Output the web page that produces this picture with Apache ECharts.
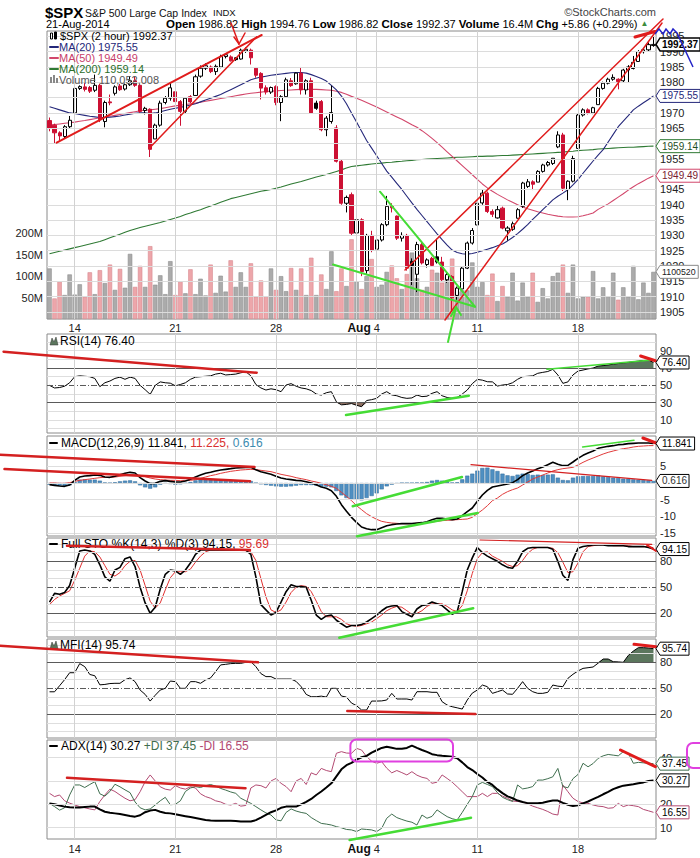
<!DOCTYPE html>
<html><head><meta charset="utf-8">
<script src="https://cdn.jsdelivr.net/npm/echarts@6/dist/echarts.min.js"></script>
<style>html,body{margin:0;padding:0;background:#fff}#c{width:700px;height:858px}</style>
</head><body><div id="c"></div>
<script>
const FONT = '"Liberation Sans", Arial, Helvetica, sans-serif';

// ---------- categories ----------
const tradingDays = ['Jul 10','Jul 11','Jul 14','Jul 15','Jul 16','Jul 17','Jul 18','Jul 21','Jul 22','Jul 23','Jul 24','Jul 25','Jul 28','Jul 29','Jul 30','Jul 31','Aug 1','Aug 4','Aug 5','Aug 6','Aug 7','Aug 8','Aug 11','Aug 12','Aug 13','Aug 14','Aug 15','Aug 18','Aug 19','Aug 20','Aug 21'];
const sessions = ['09:30','11:30','13:30','15:30'];
const tickIndex = [5,25,45,65,85,105];
const tickText = ['14','21','28','Aug 4','11','18'];
const monthLineIndex = [61];
const priceGridValues = [1905,1910,1915,1920,1925,1930,1935,1940,1945,1950,1955,1960,1965,1970,1975,1980,1985,1990,1995];
const priceTicks = [1905,1910,1915,1920,1925,1930,1935,1940,1945,1955,1965,1970,1980,1985,1990,1995];
const volumeTicks = [50e6,100e6,150e6,200e6];
const rsiTicks = [10,30,50,70,90];
const macdGridValues = [-15,-10,-5,0,5,10];
const macdTicks = [-15,-10,-5,5];
const stoTicks = [20,50,80];
const mfiTicks = [20,50,80];
const adxTicks = [10,20,40];

// ---------- price data (2-hour bars) ----------
const openP = [1967.5,1966.0,1963.5,1962.3,1965.5,
1970.0,1978.0,1978.5,1978.3, 1977.4,1979.0,1967.2,1973.6, 1976.4,1978.8,1977.8,1979.2, 1980.5,1979.0,1970.8,1971.2, 1961.5,1966.0,1973.4,1974.8,
1976.9,1973.7,1970.5,1975.3, 1975.7,1982.0,1984.6,1985.0, 1983.5,1985.0,1988.4,1988.3, 1988.0,1987.6,1990.2,1990.5, 1984.6,1982.9,1978.2,1976.8,
1978.6,1973.4,1975.3,1980.5, 1979.5,1983.0,1977.5,1980.5, 1973.2,1973.7,1964.5,1967.2, 1965.1,1954.2,1940.5,1943.3, 1930.8,1935.1,1918.5,1930.0,
1925.5,1928.5,1933.5,1939.5, 1936.3,1929.1,1930.0,1921.5, 1917.3,1927.0,1920.5,1922.5, 1923.0,1921.3,1915.5,1916.6, 1910.4,1912.5,1919.3,1927.5,
1933.4,1940.6,1943.8,1937.8, 1935.7,1938.9,1931.5,1932.0, 1935.6,1939.5,1946.0,1947.5, 1947.4,1950.9,1953.0,1953.5, 1958.9,1962.8,1945.0,1947.7,
1958.4,1969.3,1971.0,1970.0, 1972.7,1978.0,1979.7,1981.0, 1981.0,1980.5,1984.0,1984.5, 1986.8,1990.0,1990.6,1992.0];
const highP = [1968.5,1966.5,1964.0,1966.0,1969.0,
1978.5,1979.0,1979.9,1978.8, 1982.5,1979.5,1974.0,1976.0, 1979.0,1979.5,1979.6,1982.0, 1981.8,1979.4,1972.0,1971.5, 1966.5,1974.0,1975.5,1979.9,
1977.2,1974.2,1975.2,1975.8, 1982.5,1985.5,1986.2,1985.5, 1985.8,1989.0,1989.2,1988.8, 1988.2,1991.0,1991.4,1991.0, 1985.0,1983.3,1979.0,1978.6,
1979.0,1975.8,1981.5,1981.4, 1983.2,1985.0,1981.0,1981.5, 1974.0,1974.2,1969.0,1978.9, 1966.0,1954.8,1943.0,1944.0, 1937.3,1935.6,1930.5,1931.5,
1930.0,1934.0,1942.9,1940.5, 1936.5,1931.0,1930.5,1922.5, 1927.9,1927.6,1922.5,1923.0, 1928.9,1923.0,1917.8,1917.0, 1913.3,1919.8,1928.0,1932.4,
1941.0,1944.9,1944.3,1938.5, 1939.6,1939.4,1933.0,1934.5, 1938.9,1947.5,1948.4,1948.0, 1951.3,1953.4,1954.3,1955.2, 1964.0,1963.5,1948.0,1956.0,
1969.8,1971.5,1971.5,1972.0, 1978.5,1980.2,1981.5,1982.6, 1981.3,1984.4,1985.6,1988.6, 1990.5,1991.2,1993.0,1994.8];
const lowP = [1964.0,1960.0,1961.0,1961.5,1965.0,
1969.9,1977.5,1977.0,1976.5, 1976.8,1967.0,1965.3,1972.5, 1975.7,1977.2,1977.3,1978.8, 1978.5,1970.0,1969.5,1955.6, 1961.5,1965.5,1972.8,1974.0,
1973.0,1965.8,1970.0,1973.2, 1975.6,1981.5,1984.0,1983.0, 1982.4,1984.6,1987.8,1986.8, 1987.0,1987.4,1989.6,1985.8, 1981.5,1974.4,1976.0,1976.2,
1972.5,1967.3,1975.0,1978.5, 1979.2,1976.0,1976.0,1969.7, 1971.0,1964.0,1962.4,1966.5, 1953.8,1940.0,1937.5,1930.0, 1930.0,1916.7,1917.5,1924.5,
1921.2,1928.0,1933.0,1937.5, 1928.5,1928.0,1918.5,1913.8, 1911.5,1920.5,1919.5,1919.8, 1920.8,1915.0,1914.5,1904.8, 1909.0,1912.0,1919.0,1927.0,
1933.4,1940.0,1937.3,1936.0, 1935.5,1932.0,1928.3,1931.5, 1935.6,1939.0,1945.5,1944.8, 1947.4,1950.5,1952.5,1953.0, 1958.5,1944.5,1941.5,1947.3,
1958.4,1968.8,1969.5,1969.6, 1972.7,1977.6,1979.3,1980.5, 1977.7,1980.0,1980.0,1984.2, 1986.8,1989.4,1990.2,1991.6];
const closeP = [1965.0,1963.5,1962.5,1965.5,1967.6,
1978.0,1978.6,1977.7,1977.1, 1979.0,1967.8,1973.4,1973.3, 1978.5,1977.6,1979.2,1980.5, 1979.0,1970.5,1971.5,1958.1, 1966.0,1973.2,1974.8,1978.2,
1973.7,1970.5,1974.8,1973.6, 1981.8,1984.6,1985.4,1983.5, 1985.2,1988.4,1989.0,1987.0, 1987.4,1990.5,1990.8,1988.0, 1982.3,1978.1,1976.8,1978.3,
1973.4,1975.3,1980.8,1978.9, 1983.0,1977.5,1980.5,1970.0, 1971.5,1964.5,1968.3,1970.1, 1954.2,1940.5,1942.4,1930.7, 1935.1,1918.2,1930.0,1925.2,
1928.5,1933.5,1939.5,1939.0, 1929.1,1930.0,1919.3,1920.2, 1927.0,1921.0,1922.0,1920.2, 1921.3,1915.5,1917.2,1909.6, 1912.8,1919.3,1927.5,1931.6,
1940.5,1943.8,1937.8,1936.9, 1938.4,1932.4,1932.4,1933.8, 1938.4,1947.1,1947.5,1946.7, 1950.9,1953.0,1953.8,1955.2, 1962.8,1945.4,1947.7,1955.1,
1969.3,1971.0,1970.0,1971.7, 1978.0,1979.7,1981.0,1981.6, 1980.2,1984.0,1985.0,1986.5, 1990.0,1990.6,1992.3,1992.37];
const volumeM = [118,48,88,56,104,
57,81,52,109, 58,114,84,127, 68,117,73,152, 75,124,75,170, 80,102,58,135,
56,88,60,116, 58,94,55,127, 61,101,64,137, 75,109,75,130, 52,90,53,118,
68,100,65,119, 68,118,56,143, 56,104,70,158, 65,118,77,186, 88,70,100,140,
75,80,110,125, 95,70,105,155, 95,68,75,115, 108,85,100,141, 64,67,67,132,
75,86,56,106, 42,77,52,108, 43,85,52,108, 40,72,48,100, 108,127,61,127,
48,52,52,112, 48,74,53,108, 45,74,52,124, 46,85,61,110];
const ma20 = [1972.0,1971.5,1971.0,1970.5,1970.0,1969.8,1969.5,1969.2,1968.9,1968.7,
1968.5,1968.5,1968.6,1968.8,1969.0,1969.3,1969.6,1969.9,1970.0,1970.0,
1969.8,1970.0,1970.4,1970.8,1971.2,1971.5,1971.8,1972.2,1972.6,1973.0,
1973.6,1974.2,1974.8,1975.4,1976.0,1976.8,1977.6,1978.4,1979.2,1980.0,
1980.8,1981.3,1981.7,1982.0,1982.3,1982.5,1982.7,1982.9,1983.1,1983.2,
1983.2,1983.0,1982.5,1981.9,1981.2,1980.4,1979.0,1977.5,1975.5,1973.0,
1970.0,1967.0,1964.0,1961.0,1958.5,1956.0,1953.5,1951.0,1949.0,1947.0,
1945.0,1942.8,1940.6,1938.5,1936.5,1934.5,1932.5,1930.5,1928.6,1926.8,
1925.2,1924.4,1924.0,1923.9,1924.1,1924.5,1925.0,1925.5,1926.0,1926.6,
1927.2,1928.2,1929.3,1930.6,1932.0,1933.5,1935.2,1936.8,1938.4,1940.0,
1941.6,1942.8,1943.8,1944.9,1946.5,1948.2,1950.3,1952.3,1954.3,1956.2,
1958.0,1960.5,1963.0,1965.5,1967.3,1969.1,1971.0,1972.2,1973.3,1974.4,1975.55];
const ma50 = [1966.0,1966.2,1966.4,1966.6,1966.8,1967.0,1967.3,1967.5,1967.8,1968.1,
1968.4,1968.6,1968.9,1969.2,1969.5,1969.8,1970.1,1970.4,1970.7,1970.9,
1971.0,1971.2,1971.4,1971.7,1972.0,1972.3,1972.5,1972.7,1973.0,1973.2,
1973.5,1973.8,1974.1,1974.4,1974.7,1975.0,1975.3,1975.6,1975.9,1976.2,
1976.4,1976.6,1976.8,1977.0,1977.1,1977.2,1977.3,1977.4,1977.5,1977.6,
1977.7,1977.7,1977.7,1977.7,1977.6,1977.5,1977.4,1977.1,1976.7,1976.1,
1975.4,1974.8,1974.1,1973.4,1972.7,1971.9,1971.1,1970.3,1969.5,1968.7,
1967.9,1967.0,1966.1,1965.3,1964.2,1963.0,1961.7,1960.3,1958.8,1957.3,
1955.8,1954.3,1952.8,1951.3,1949.8,1948.3,1946.8,1945.5,1944.4,1943.4,
1942.5,1941.6,1940.8,1940.0,1939.3,1938.7,1938.2,1937.7,1937.3,1936.9,
1936.6,1936.3,1936.1,1936.0,1936.0,1936.1,1936.4,1936.8,1937.3,1938.5,
1939.4,1940.3,1941.4,1942.5,1943.6,1944.8,1945.9,1946.9,1947.8,1948.7,1949.49];
const ma200 = [1924.0,1924.4,1924.8,1925.2,1925.6,1926.0,1926.4,1926.8,1927.2,1927.6,
1928.0,1928.6,1929.2,1929.8,1930.4,1931.0,1931.6,1932.1,1932.6,1933.0,
1933.4,1933.8,1934.2,1934.7,1935.2,1935.7,1936.2,1936.8,1937.3,1937.9,
1938.4,1939.0,1939.6,1940.2,1940.8,1941.4,1942.0,1942.4,1942.8,1943.2,
1943.6,1944.0,1944.4,1944.7,1945.0,1945.4,1945.8,1946.3,1946.8,1947.2,
1947.6,1948.1,1948.6,1949.1,1949.5,1949.9,1950.4,1950.9,1951.4,1952.0,
1952.5,1952.7,1952.9,1953.1,1953.3,1953.5,1953.6,1953.8,1953.9,1954.1,
1954.2,1954.4,1954.5,1954.7,1954.8,1954.9,1955.0,1955.1,1955.2,1955.3,
1955.4,1955.5,1955.5,1955.6,1955.7,1955.8,1955.8,1955.9,1955.9,1956.0,
1956.1,1956.1,1956.2,1956.3,1956.4,1956.5,1956.6,1956.7,1956.8,1956.9,
1957.0,1957.1,1957.2,1957.4,1957.5,1957.7,1957.8,1957.9,1958.0,1958.2,
1958.3,1958.4,1958.5,1958.6,1958.7,1958.8,1958.8,1958.9,1959.0,1959.1,1959.14];

// ---------- indicators ----------
const rsi = [50,47,47.5,49,53,60,61,60.5,60,58,
48.5,53,55,58,59.5,57,59.5,58,50,45,
39.6,50,54,53,52.5,49.5,51,53,57,59.5,
60,60.5,61,63,64,62,62.5,63,64.5,65.8,
61,51,47,44.6,46,45,42.7,50.4,52,49,
47,46,44,40,38.8,41.5,42.7,31,27.5,28,
29,27,25.4,32.5,33.5,35,40,42.7,39,38,
36,35,35.5,38.8,37,37.5,40.8,42.7,38,36,
35,36,40,44.6,52,56.9,56,54.2,54,49.2,
50.4,51,53,57,60,60.5,61,63.9,65,66,
68.5,62,52.3,54,62,66.5,67.7,69,70,72.3,
72.8,73.5,74.5,75.2,76,76.5,77.3,78,78.8,79.3,76.4];
const macd = [-0.5,-0.7,-0.9,-1.0,-0.6,0.8,1.8,2.1,2.2,2.4,
2.3,1.8,1.7,2.0,2.5,2.9,3.2,3.0,1.6,0.6,
-0.2,-0.1,0.5,0.7,0.5,0.3,0.3,0.6,1.1,1.8,
2.4,2.9,3.2,3.6,3.9,4.1,4.3,4.5,4.6,4.7,
4.7,4.0,3.4,3.0,2.6,2.0,1.5,1.2,1.0,0.8,
0.7,0.4,0.0,-0.5,-1.2,-1.6,-2.3,-4.0,-6.5,-8.5,
-10.3,-11.8,-13.2,-13.7,-14.0,-14.0,-13.4,-12.8,-12.5,-12.3,
-12.2,-12.2,-12.2,-12.0,-11.9,-11.6,-11.0,-10.6,-10.6,-10.8,
-11.0,-10.8,-9.8,-8.6,-7.5,-5.5,-3.6,-2.2,-1.2,-0.9,
-0.6,-0.3,0.1,1.0,2.2,3.0,3.6,4.3,4.8,5.5,
6.2,5.6,5.2,5.3,6.3,7.4,8.3,9.0,9.6,10.4,
10.7,11.0,11.2,11.5,11.6,11.8,11.9,12.0,12.0,12.0,11.841];
const macdSignal = [0,0,-0.1,-0.1,0.1,0.5,0.8,1.0,1.2,1.4,
1.6,1.7,1.7,1.8,2.0,2.2,2.4,2.5,2.3,1.9,
1.5,1.2,1.0,0.9,0.8,0.8,0.7,0.7,0.8,1.0,
1.4,1.8,2.2,2.5,2.9,3.2,3.5,3.7,3.9,4.0,
4.1,4.0,3.8,3.6,3.4,3.0,2.6,2.3,2.0,1.6,
1.3,1.0,0.6,0.3,-0.1,-0.5,-1.0,-1.6,-2.8,-4.0,
-5.3,-6.8,-8.0,-9.2,-10.1,-10.9,-11.5,-11.8,-12.0,-12.1,
-12.2,-12.2,-12.2,-12.1,-12.0,-11.9,-11.7,-11.5,-11.3,-11.2,
-11.1,-11.0,-10.9,-10.8,-10.3,-9.2,-8.1,-6.8,-5.3,-4.5,
-3.4,-2.6,-2.0,-1.5,-0.6,0.3,1.2,1.8,2.4,3.0,
3.6,4.0,4.3,4.5,4.7,5.4,6.2,6.9,7.5,8.1,
8.7,9.2,9.6,10.0,10.3,10.5,10.8,11.0,11.1,11.2,11.225];
const macdHist = [-0.5,-0.7,-0.8,-0.9,-0.7,0.3,1.0,1.1,1.0,1.0,
0.7,0.1,0.0,0.2,0.5,0.7,0.8,0.5,-0.7,-1.3,
-1.7,-1.3,-0.5,-0.2,-0.3,-0.5,-0.4,-0.1,0.3,0.8,
1.0,1.1,1.0,1.1,1.0,0.9,0.8,0.8,0.7,0.7,
0.6,0.0,-0.4,-0.6,-0.8,-1.0,-1.1,-1.1,-1.0,-0.8,
-0.6,-0.6,-0.6,-0.8,-1.1,-1.1,-1.3,-2.4,-3.7,-4.5,
-5.0,-5.0,-5.2,-4.5,-3.9,-3.1,-1.9,-1.0,-0.5,-0.2,
0.0,0.0,0.0,0.1,0.1,0.3,0.7,0.9,0.7,0.4,
0.1,0.2,1.1,2.2,2.8,3.7,4.5,4.6,4.1,3.6,
2.8,2.3,2.1,2.5,2.8,2.7,2.4,2.5,2.4,2.5,
2.6,1.6,0.9,0.8,1.6,2.0,2.1,2.1,2.1,2.3,
2.0,1.8,1.6,1.5,1.3,1.3,1.1,1.0,0.9,0.8,0.616];
const stoK = [33,43,42,44,52,72,92,93,92,88,
76,62,57,70,73,83,85,74,50,32,
20,27,48,65,70,69,65,70,78,88,
93,93,93,93,93,93,93,93,93,93,
88,62,30,24,18,21,33,45,53,51,
51,50,35,18,13,17,18,12,8,4,
6,6,7,10,14,18,23,27,28.5,29,
22,19,16,25,29,30,33,31,29,24,
19,22,45,70,84,96,90,86,83,80,
76,73,72,80,91,95,96,96,96,96,
94,80,64,58,82,95,97,98,99,99,
99,98,98,98,98,97,97,97,97,96,94.15];
const stoD = [30,36,40,43,46,58,72,86,92,91,
85,75,65,63,67,75,80,81,70,52,
34,26,32,47,61,68,68,68,71,79,
86,91,93,93,93,93,93,93,93,93,
91,81,60,39,24,21,24,33,44,50,
52,51,45,34,22,16,16,16,13,8,
6,5,6,8,10,14,18,23,26,28,
27,23,19,20,23,28,31,31,31,28,
24,22,29,46,66,83,90,91,86,83,
80,76,74,75,81,89,94,96,96,96,
95,90,79,67,68,78,91,97,98,99,
99,99,98,98,98,98,97,97,97,97,95.69];
const mfi = [46,46,53,60,68,68,78.5,75,66,64.5,
54,54.5,55.5,55.8,55.8,60,62,57.7,48,43,
35.3,42,48,50,58.4,57.7,50,50,57.7,57.7,
55.8,59.6,62,69.2,77,77.7,78.5,78.8,78.8,80,
80.8,75,67,63.5,63.5,60.7,60.7,60.7,60.7,58,
51.9,43,40.3,40.3,41,39.9,50,50,41.1,39.9,
33,30,25,25,35.3,35.3,35.5,36.5,44.2,37.7,
37.7,37.7,36.5,46.1,46.1,46.1,45.4,45.4,34.6,30.7,
28.8,27.5,26.1,36.5,44.5,48,53.8,51.9,44.2,46.1,
48,43.5,43.1,50,57.7,50,46.1,44.2,44.2,45.4,
53.8,52.5,51.9,61.5,66.2,70,73,73.8,74.6,79,
83.8,83.8,80.7,80.5,80,88,93,96.9,96.9,96.5,95.74];
const adx = [20.4,20.0,19.5,19.0,18.7,18.6,18.6,18.8,19.0,19.0,
17.8,16.8,16.4,16.1,15.8,15.4,15.0,14.7,15.3,16.6,
17.3,17.6,16.8,16.3,16.1,15.7,15.3,14.9,14.5,14.1,
13.7,13.3,13.0,12.9,12.9,12.9,12.9,12.8,12.6,12.6,
12.6,13.2,14.3,15.5,16.6,17.4,18.5,19.0,19.0,19.0,
20.0,21.0,22.3,24.0,25.5,27.2,29.0,32.0,35.0,36.8,
37.8,39.2,40.2,40.8,42.2,43.2,44.2,44.7,44.3,43.8,
43.8,44.2,45.2,44.2,43.3,42.5,41.5,41.1,40.8,40.6,
40.4,39.8,38.0,36.0,34.7,33.0,31.5,29.6,28.3,26.4,
24.8,23.4,22.6,21.6,21.0,20.5,20.4,20.4,20.7,21.2,
21.6,21.6,20.6,19.8,19.3,19.6,20.4,21.2,22.2,23.2,
24.3,25.3,26.5,27.3,28.0,28.3,28.6,29.0,29.4,30.0,30.27];
const plusDI = [20.4,19.0,17.5,18.5,24,28.3,28.3,27.2,28.5,29.7,
24.5,23.5,25.5,28.6,27.5,26.2,25,21,18.5,17.6,
18,19.7,21.5,23,19.8,20,21.5,25.5,27,27.6,
27.2,28,28.5,27.8,26.8,26.1,25.3,24.7,22.6,21.5,
20.4,19,17.6,16.3,15.4,13.3,12.9,16.5,18,17.1,
16.5,16.1,14.3,13,11.8,11.5,11.1,10.4,9.9,9.2,
9.0,8.3,9.4,9.2,9,8.3,9.7,14,15.8,14.3,
13.5,12.8,12.3,11.1,15.4,14,14.8,17.6,16.1,14.7,
13.8,13.3,16.5,20,23.3,28.3,29.4,28.5,27.6,25,
23,22,21.2,28.3,26.6,27,27.6,30.4,30.4,31,
31.8,35.4,27.6,27.1,31,32.8,37.6,36.1,37.5,39.7,
40.8,41.4,41.1,40.8,42.6,41.9,37.6,38,37.8,37.6,37.45];
const minusDI = [24.7,23.3,24,21.5,20.5,19.7,19,18.5,18,17.6,
21.2,24,26.5,25.5,24,22.6,21.5,22,25.4,29.7,
32.6,30,27.5,26.5,26.1,28,27,26.5,27.5,27,
24.5,23.3,22.6,21.5,21,20,19.7,20.4,19.2,19.5,
27,28.3,28,27,30,31.1,29,27.6,25.4,30,
31.1,28.5,33.5,32.6,35.4,34.5,34,41.9,42.6,42,
41.9,44,43.3,40.5,38.5,37.6,38.3,35.5,33.5,34.5,
33.6,32.6,34,32.5,31.6,31.1,29,29.5,32.6,31.1,
29.5,27.5,25.4,23.3,23.3,23.3,24.7,23.3,24.7,24.7,
23.5,22.6,21.4,21.2,21,20.2,19.2,18.5,17.8,16.9,
15.8,15.4,28.3,25.4,22.6,21.2,20.6,20.4,19.7,19.2,
19,18.3,18.5,20.4,19,19.7,19.4,19,17.8,17.2,16.55];

// ---------- build categories ----------
const cats = [];
tradingDays.forEach((d, k) => {
  const ss = k === 0 ? sessions.slice(3) : sessions;
  ss.forEach(s => cats.push(d + ' ' + s));
});

const RED = '#cc1033';
const candleData = openP.map((o, i) => {
  const c = closeP[i], prev = i ? closeP[i-1] : o;
  const up = c >= o, upPrev = c >= prev;
  let fill, border;
  if (up && upPrev) { fill = '#ffffff'; border = '#000000'; }
  else if (up) { fill = '#ffffff'; border = RED; }
  else if (!upPrev) { fill = RED; border = RED; }
  else { fill = '#000000'; border = '#000000'; }
  return { value: [o, c, lowP[i], highP[i]], itemStyle: { color: fill, color0: fill, borderColor: border, borderColor0: border, borderWidth: 1 } };
});
const volData = volumeM.map((v, i) => {
  const down = i && closeP[i] < closeP[i-1];
  return { value: v * 1e6, itemStyle: { color: down ? '#eda6aa' : '#ababab', borderColor: down ? '#d98a90' : '#8f8f8f', borderWidth: 0.6 } };
});

// ---------- helpers ----------
const LIGHT = '#dedede', DARK = '#5a5a5a';
function hl(vals, color, type) { return vals.map(v => ({ yAxis: v, lineStyle: { color, width: 1, type: type || 'solid' } })); }
function vl() { return tickIndex.concat(monthLineIndex).map(i => ({ xAxis: cats[i], lineStyle: { color: '#d2d2d2', width: 1, type: 'solid' } })); }
function gridSeries(k, yIdx, lines) {
  return { type: 'line', xAxisIndex: k, yAxisIndex: yIdx, data: cats.map(() => null), silent: true, z: 0, symbol: 'none', animation: false,
    markLine: { silent: true, symbol: ['none','none'], label: { show: false }, animation: false, emphasis: { disabled: true }, data: lines.concat(vl()) } };
}
function lineS(k, yIdx, data, color, width, z) {
  return { type: 'line', xAxisIndex: k, yAxisIndex: yIdx, data, symbol: 'none', showSymbol: false, silent: true, animation: false, z: z || 3,
    lineStyle: { color, width }, emphasis: { disabled: true } };
}
function fillPair(k, yIdx, base, top, color, stackName) {
  return [
    { type: 'line', xAxisIndex: k, yAxisIndex: yIdx, data: base, stack: stackName, symbol: 'none', silent: true, animation: false, z: 1, lineStyle: { opacity: 0 } },
    { type: 'line', xAxisIndex: k, yAxisIndex: yIdx, data: top, stack: stackName, symbol: 'none', silent: true, animation: false, z: 1, lineStyle: { opacity: 0 }, areaStyle: { color, opacity: 1 } }
  ];
}

const gridsPos = [[31,288],[334,99],[436,100],[538,99],[639,99],[740,99]];
const grid = gridsPos.map(p => ({ left: 47, right: 44, top: p[0], height: p[1], show: true, borderColor: '#8a8a8a', borderWidth: 1, backgroundColor: '#ffffff' }));

const xAxis = gridsPos.map((p, k) => ({
  type: 'category', gridIndex: k, data: cats, boundaryGap: true,
  axisLine: { show: false }, axisTick: { show: false }, splitLine: { show: false },
  axisLabel: (k === 0 || k === 5) ? {
    show: true, interval: (i) => tickIndex.indexOf(i) >= 0, margin: k === 0 ? 3 : 4,
    fontSize: 11, color: '#222', fontFamily: FONT,
    formatter: (v, i) => { const t = tickText[tickIndex.indexOf(i)]; return t === 'Aug 4' ? '{b|Aug} 4{sp| }' : t; },
    rich: { b: { fontWeight: 'bold', fontSize: 12, fontFamily: FONT, color: '#111' }, sp: { width: 26 } }
  } : { show: false }
}));

function yAx(gi, min, max, ticks, pos, fmt) {
  return { type: 'value', gridIndex: gi, position: pos || 'right', min, max,
    axisLine: { show: false }, axisTick: { show: false }, splitLine: { show: false },
    axisLabel: { customValues: ticks, fontSize: 11, color: '#222', fontFamily: FONT, margin: 4, formatter: fmt || (v => String(v)) } };
}
const yAxis = [
  yAx(0, 1902.7, 1996.75, priceTicks),
  yAx(0, 0, 672e6, volumeTicks, 'left', v => (v / 1e6) + 'M'),
  yAx(1, -5, 109.3, rsiTicks),
  yAx(2, -15.9, 14.1, macdTicks),
  yAx(3, -7.3, 106.9, stoTicks),
  yAx(4, -7.3, 106.9, mfiTicks),
  yAx(5, 5.1, 47.6, adxTicks)
];

const dashDot = [6, 2, 1, 2];
const series = [
  gridSeries(0, 0, hl(priceGridValues, '#dcdcdc')),
  { type: 'bar', xAxisIndex: 0, yAxisIndex: 1, data: volData, barCategoryGap: '12%', silent: true, animation: false, z: 1 },
  lineS(0, 0, ma200, '#2f7a34', 1.1, 2),
  lineS(0, 0, ma50, '#d2476b', 1.1, 2),
  lineS(0, 0, ma20, '#25287a', 1.1, 2),
  { type: 'candlestick', xAxisIndex: 0, yAxisIndex: 0, data: candleData, barWidth: 3.6, silent: true, animation: false, z: 4 },

  gridSeries(1, 2, hl([0,10,20,40,60,80,90,100], LIGHT).concat(hl([30,70], DARK), hl([50], DARK, dashDot))),
  ...fillPair(1, 2, rsi.map(() => 70), rsi.map(v => Math.max(v - 70, 0)), '#5b765d', 'rsiHi'),
  ...fillPair(1, 2, rsi.map(v => Math.min(v, 30)), rsi.map(v => 30 - Math.min(v, 30)), '#8c6f62', 'rsiLo'),
  lineS(1, 2, rsi, '#000', 1),

  gridSeries(2, 3, hl(macdGridValues, LIGHT)),
  { type: 'bar', xAxisIndex: 2, yAxisIndex: 3, data: macdHist, barCategoryGap: '18%', silent: true, animation: false, z: 1,
    itemStyle: { color: '#4f8fc2', borderColor: '#2f6a98', borderWidth: 0.5 } },
  lineS(2, 3, macdSignal, '#e03a3a', 1),
  lineS(2, 3, macd, '#000', 1.6),

  gridSeries(3, 4, hl([0,10,30,40,60,70,90,100], LIGHT).concat(hl([20,80], DARK), hl([50], DARK, dashDot))),
  lineS(3, 4, stoD, '#e03030', 1),
  lineS(3, 4, stoK, '#000', 1.6),

  gridSeries(4, 5, hl([0,10,30,40,60,70,90,100], LIGHT).concat(hl([20,80], DARK), hl([50], DARK, dashDot))),
  ...fillPair(4, 5, mfi.map(() => 80), mfi.map(v => Math.max(v - 80, 0)), '#5b765d', 'mfiHi'),
  lineS(4, 5, mfi, '#000', 1),

  gridSeries(5, 6, hl([10,20,30,40], LIGHT)),
  lineS(5, 6, minusDI, '#b24a72', 1),
  lineS(5, 6, plusDI, '#3f6e4e', 1),
  lineS(5, 6, adx, '#000', 2)
];

const chart = echarts.init(document.getElementById('c'), null, { renderer: 'svg', width: 700, height: 858 });
chart.setOption({ backgroundColor: '#ffffff', animation: false, grid, xAxis, yAxis, series });

// ---------- texts, tags and hand-drawn annotations ----------
const G = [];
function txt(x, y, text, o) {
  G.push({ type: 'text', x, y, z: 60, silent: true,
    style: Object.assign({ text, fontFamily: FONT, fontSize: 11, fill: '#000', verticalAlign: 'middle', align: 'left' }, o || {}) });
}
function ln(x1, y1, x2, y2, color, w, z) {
  G.push({ type: 'line', z: z || 70, silent: true, shape: { x1, y1, x2, y2 }, style: { stroke: color, lineWidth: w, lineCap: 'round' } });
}
function box(x, y, w, h, fill) { G.push({ type: 'rect', z: 60, silent: true, shape: { x, y, width: w, height: h }, style: { fill } }); }

// header
txt(45, 12, '$SPX', { fontSize: 15, fontWeight: 'bold' });
txt(85, 12.5, 'S&P 500 Large Cap Index', { fontSize: 10.5, fill: '#111' });
txt(213, 12.5, 'INDX', { fontSize: 9.5, fill: '#111' });
txt(656, 12, '\u00A9StockCharts.com', { align: 'right', fill: '#444', fontSize: 11 });
txt(46, 23.5, '21-Aug-2014', { fontSize: 11 });
txt(166, 23.5, '{b|Open} 1986.82 {b|High} 1994.76 {b|Low} 1986.82 {b|Close} 1992.37 {b|Volume} 16.4M {b|Chg} +5.86 (+0.29%) {g|\u25B2}', {
  fontSize: 11, rich: { b: { fontWeight: 'bold', fontSize: 11.5, fontFamily: FONT, fill: '#000' }, g: { fontSize: 8, fontFamily: FONT, fill: '#3c8c3c' } } });

// price legend
G.push({ type: 'rect', z: 60, silent: true, shape: { x: 50.5, y: 33, width: 2, height: 6 }, style: { fill: '#fff', stroke: '#000', lineWidth: 1 } });
G.push({ type: 'rect', z: 60, silent: true, shape: { x: 54.5, y: 32, width: 2, height: 7 }, style: { fill: '#000', stroke: '#000', lineWidth: 1 } });
txt(60, 36, '$SPX (2 hour) 1992.37', { fontSize: 11 });
ln(50, 47, 58, 47, '#25287a', 2, 60); txt(59, 47, 'MA(20) 1975.55', { fill: '#25287a' });
ln(50, 58, 58, 58, '#d2476b', 2, 60); txt(59, 58, 'MA(50) 1949.49', { fill: '#c8406a' });
ln(50, 69, 58, 69, '#2f7a34', 2, 60); txt(59, 69, 'MA(200) 1959.14', { fill: '#2a6e2a' });
box(50, 77, 2, 6, '#888'); box(53, 75, 2, 8, '#888'); box(56, 78, 2, 5, '#888');
txt(59, 80, 'Volume 110,052,008', { fill: '#555' });

// panel titles
function areaIcon(y) { G.push({ type: 'polygon', z: 60, silent: true, shape: { points: [[50,y+4],[52,y-3],[54,y+1],[56,y-4],[58,y+4]] }, style: { fill: '#5b765d', stroke: '#333', lineWidth: 0.5 } }); }
areaIcon(341); txt(60, 341, 'RSI(14) 76.40', { fontSize: 12 });
ln(50, 443, 57, 443, '#000', 2, 60);
txt(61, 443, '{k|MACD(12,26,9) 11.841,}{r| 11.225,}{t| 0.616}', { fontSize: 12,
  rich: { k: { fontSize: 12, fontFamily: FONT, fill: '#000' }, r: { fontSize: 12, fontFamily: FONT, fill: '#d83030' }, t: { fontSize: 12, fontFamily: FONT, fill: '#3d8bb0' } } });
ln(50, 544, 57, 544, '#000', 2, 60);
txt(61, 544, '{k|Full STO %K(14,3) %D(3) 94.15,}{r| 95.69}', { fontSize: 12,
  rich: { k: { fontSize: 12, fontFamily: FONT, fill: '#000' }, r: { fontSize: 12, fontFamily: FONT, fill: '#d83030' } } });
areaIcon(645); txt(60, 645, 'MFI(14) 95.74', { fontSize: 12 });
ln(50, 746, 57, 746, '#000', 2, 60);
txt(61, 746, '{k|ADX(14) 30.27 }{g|+DI 37.45 }{m|-DI 16.55}', { fontSize: 12,
  rich: { k: { fontSize: 12, fontFamily: FONT, fill: '#000' }, g: { fontSize: 12, fontFamily: FONT, fill: '#3f6e4e' }, m: { fontSize: 12, fontFamily: FONT, fill: '#b24a72' } } });

// value tags on the right axis, positioned through the axes
function tag(axisIdx, value, text, border, o) {
  o = o || {};
  const y = chart.convertToPixel({ yAxisIndex: axisIdx }, value);
  const size = o.size || 10;
  let w = 0; for (const ch of text) w += (ch === '.' ? 2.78 : 5.56) * size / 10;
  w += 4;
  const x0 = 656, ah = 4;
  G.push({ type: 'polygon', z: 80, silent: true, shape: { points: [[x0, y], [x0 + ah, y - 6.5], [x0 + ah + w, y - 6.5], [x0 + ah + w, y + 6.5], [x0 + ah, y + 6.5]] },
    style: { fill: '#fff', stroke: border, lineWidth: o.bw || 1 } });
  G.push({ type: 'text', z: 81, silent: true, x: x0 + ah + 2, y, style: { text, fontFamily: FONT, fontSize: size, fontWeight: o.bold ? 'bold' : 'normal', fill: o.color || '#000', verticalAlign: 'middle' } });
}
tag(0, 1975.55, '1975.55', '#25287a', { color: '#25287a' });
tag(0, 1959.14, '1959.14', '#2f7a34', { color: '#1f4f1f' });
tag(0, 1949.49, '1949.49', '#d2476b', { color: '#7a2030' });
tag(1, 110052008, '1100520', '#8a8a8a', { color: '#222', size: 8.8 });
tag(0, 1992.37, '1992.37', '#000', { bold: true, size: 10, bw: 1.5 });
tag(2, 76.40, '76.40', '#000');
tag(3, 0.616, '0.616', '#000', { color: '#333' });
tag(3, 11.841, '11.841', '#000');
tag(4, 94.15, '94.15', '#000');
tag(5, 95.74, '95.74', '#000');
tag(6, 16.55, '16.55', '#b24a72');
tag(6, 30.27, '30.27', '#000');
tag(6, 37.45, '37.45', '#3f6e4e');

// hand-drawn annotations of the original picture (page pixels)
const AR = '#e01c1c', AG = '#45dc35';
const annoLines = [
  [56.7,142.7,261.7,35,AR,2],[149.3,148.3,256.7,36.7,AR,1.5],
  [231,23,239,44,AR,1.5],[234,37,239,44,AR,1.5],[245,33,239,44,AR,1.5],
  [405,270,663,19,AR,1.5],[445,320,662,23,AR,1.5],[635,37,655,31.5,AR,3],
  [380,191.7,475,306.7,AG,2],[333,264.5,475,306.7,AG,2],
  [448,342,456,307,AG,2],[451,316,456,307,AG,2],[461,315,456,307,AG,2],
  [3.6,351.7,256.7,372.7,'#d42020',2.5],[346,415,468.8,395.7,AG,2.5],[546.9,369.3,651.8,360,AG,1.5],[640.6,356,655.4,360.7,AR,3],
  [0,454.7,254.5,467,'#d42020',2.5],[4.5,469,250,481.3,'#d42020',2.5],[471,464.7,651.8,480.3,'#d42020',1.2],
  [352.7,506.3,462,477,AG,2.5],[357,536.3,477.7,513,AG,2.5],[582.6,447,634,440.3,AG,1.5],[642.9,438,656,443,AR,3],
  [67,545.7,250,550,'#d42020',2.5],[339.3,637.7,473.2,608.3,AG,2.5],[480,540,651.8,544.3,'#d42020',1.2],[647,545,656,551,AR,2],
  [0,645.7,258,662.3,'#d42020',2.5],[347.3,711,475.4,714,'#d42020',2.5],[634,644.3,656,646.7,AR,3],
  [67,777.7,245.5,788.3,'#d42020',2.5],[349.6,840,471,817.7,AG,2.5],[620.5,750,655.4,766.7,AR,3]
];
annoLines.forEach(a => ln(a[0], a[1], a[2], a[3], a[4], a[5]));
G.push({ type: 'polyline', z: 85, silent: true, shape: { points: [[655,34],[659,29],[663,34],[666,29],[670,34],[673,29],[677,33],[693,67]] }, style: { stroke: '#2424c8', lineWidth: 1.5, fill: 'none' } });
G.push({ type: 'rect', z: 85, silent: true, shape: { x: 350.4, y: 739.5, width: 102.6, height: 22, r: 6 }, style: { fill: 'none', stroke: '#e040e0', lineWidth: 2 } });
G.push({ type: 'rect', z: 85, silent: true, shape: { x: 687, y: 743, width: 24, height: 25, r: 6 }, style: { fill: 'none', stroke: '#e040e0', lineWidth: 2 } });

chart.setOption({ graphic: G });
</script>
</body></html>
